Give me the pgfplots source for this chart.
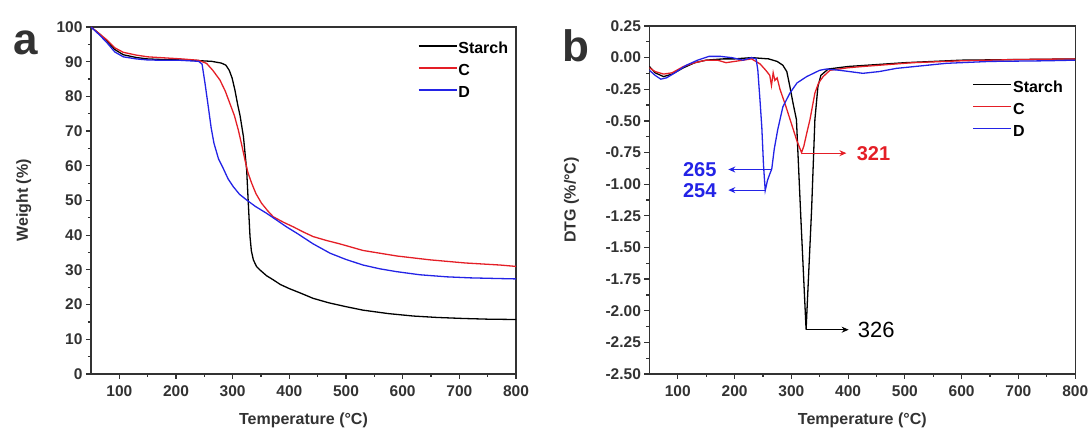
\documentclass[border=0pt]{standalone}
\usepackage{pgfplots}
\pgfplotsset{compat=1.18}
\usepackage{pgfplotstable}
\usepackage{fontspec}
\setmainfont{Liberation Sans}
\usetikzlibrary{arrows.meta}
\definecolor{myred}{RGB}{228,30,38}
\definecolor{myblue}{RGB}{35,35,230}
\definecolor{frame}{RGB}{50,50,50}

\pgfplotstableread{
T W
50 100
65 98
78 96
92 93.5
107 92
130 91.2
150 90.8
180 90.6
210 90.5
240 90.3
263 90.1
280 89.6
288 89
294 87.5
299 85.3
304 81.8
309 77.5
313 74.5
319 68.4
324.7 58.8
327.6 49.2
330.6 39.6
333 35.5
336.5 32.9
342 31
348 30
360 28.3
372 27.1
384 25.8
400 24.6
420 23.3
442 21.8
470 20.5
500 19.4
530 18.4
575 17.4
619 16.7
660 16.3
707 16.0
750 15.8
800 15.7
}\starchW

\pgfplotstableread{
T W
50 100
65 98
78 96.3
92 94
107 92.7
130 91.9
150 91.4
180 91.1
210 90.8
240 90.4
254 89.5
265 87.5
277.6 84.7
287 81.5
295 78
303 74.5
310 70.3
316 66
321.7 61.7
327 58
333.5 55
341 52
351 49.2
362 47
371.7 45.3
390 43.7
407 42.4
425 40.9
442 39.6
465 38.5
489 37.5
530 35.6
590 34.0
648 32.9
710 32.0
772 31.4
800 31.0
}\cW

\pgfplotstableread{
T W
50 100
65 97.7
78 95.5
92 92.8
107 91.4
130 90.8
150 90.5
180 90.4
207 90.4
230 90.2
240 90.1
246 89.3
251 84
257 77
262 71
267 66.5
275 62
283.5 59.2
292 56.2
301 54
312 51.8
325 50.1
340 48.3
360 46.3
378 44.3
395 42.4
413 40.6
442 37.5
472 34.8
500 33.0
530 31.4
560 30.3
589 29.5
630 28.6
678 28.0
720 27.7
772 27.5
800 27.4
}\dW

\pgfplotstableread{
T D
50 -0.07
60 -0.12
75 -0.15
90 -0.13
110 -0.08
130 -0.04
150 -0.02
180 -0.01
200 -0.01
230 0.0
260 -0.01
275 -0.03
285 -0.06
292 -0.11
297.5 -0.23
303 -0.36
309 -0.49
317 -1.29
326 -2.15
335.7 -1.20
341.5 -0.49
346.8 -0.23
352 -0.14
365 -0.09
400 -0.07
450 -0.055
500 -0.04
600 -0.02
700 -0.015
800 -0.01
}\starchD

\pgfplotstableread{
T D
50 -0.08
60 -0.11
75 -0.13
90 -0.12
110 -0.07
130 -0.04
150 -0.02
170 -0.02
185 -0.04
200 -0.03
215 -0.02
230 -0.01
245 -0.05
255 -0.10
262 -0.14
265 -0.22
268 -0.12
271 -0.18
275 -0.16
280 -0.25
290 -0.38
300 -0.52
310 -0.66
318 -0.75
322 -0.70
327 -0.60
332.8 -0.49
341.5 -0.28
348 -0.20
356 -0.15
368 -0.10
400 -0.08
426 -0.07
470 -0.055
514 -0.04
600 -0.025
700 -0.015
800 -0.01
}\cD

\pgfplotstableread{
T D
50 -0.10
60 -0.14
70 -0.17
80 -0.16
95 -0.12
115 -0.06
135 -0.02
155 0.01
175 0.01
195 0.0
215 -0.02
230 0.0
238 -0.01
241 -0.10
245 -0.35
248 -0.55
251 -0.85
254 -1.05
258 -0.97
262 -0.92
265.5 -0.88
270 -0.72
276 -0.57
285 -0.39
297.5 -0.28
310 -0.20
327 -0.15
350 -0.10
362 -0.09
385 -0.10
426 -0.124
455 -0.11
485 -0.085
573 -0.045
650 -0.03
749 -0.025
800 -0.02
}\dD

\pgfplotsset{
  mystyle/.style={
    scale only axis, anchor=south west,
    axis line style={frame, line width=1.4pt},
    tick style={frame, line width=1.2pt},
    major tick length=5pt, minor tick length=3pt,
    tick align=outside, tick pos=left,
    minor tick num=1,
    xmin=50, xmax=800, xtick={100,200,...,800},
    /pgf/number format/assume math mode=true,
    ticklabel style={font=\bfseries\fontsize{15.5}{15.5}\selectfont, text=frame},
    xticklabel style={yshift=-3pt},
    label style={font=\bfseries\fontsize{16}{16}\selectfont, text=frame},
    xlabel={Temperature (°C)},
    xlabel style={at={(axis description cs:0.5,-0.1326)}, anchor=center},
    legend style={draw=none, fill=none, font=\bfseries\fontsize{16}{16}\selectfont, anchor=north west, row sep=5pt, inner sep=0pt,
      nodes={inner sep=1pt, text height=12pt, text depth=3pt}},
    legend cell align=left,
    legend image code/.code={\draw[##1, line width=1.3pt] (0pt,3pt) -- (38pt,3pt);},
    every axis plot/.append style={line width=1.3pt},
  }
}

\begin{document}
\begin{tikzpicture}[x=1pt,y=1pt]
\useasboundingbox (0,0) rectangle (1092,435);

\begin{axis}[mystyle,
  at={(91pt,61pt)}, width=425pt, height=347pt,
  ymin=0, ymax=100, ytick={0,10,...,100},
  ylabel={Weight (\%)},
  ylabel style={at={(axis description cs:-0.158,0.5)}, anchor=center},
  legend style={at={(axis description cs:0.769,0.962)}},
]
\addplot[black] table {\starchW};
\addplot[myred] table {\cW};
\addplot[myblue] table {\dW};
\legend{Starch, C, D}
\end{axis}

\begin{axis}[mystyle,
  at={(649.4pt,61pt)}, width=425.8pt, height=348pt,
  ymin=-2.5, ymax=0.25,
  ytick={-2.5,-2.25,-2,-1.75,-1.5,-1.25,-1,-0.75,-0.5,-0.25,0,0.25},
  yticklabel style={/pgf/number format/.cd, fixed, fixed zerofill, precision=2},
  ylabel={DTG (\%/°C)},
  ylabel style={at={(axis description cs:-0.183,0.5)}, anchor=center},
  legend style={at={(axis description cs:0.759,0.848)}},
]
\addplot[black] table {\starchD};
\addplot[myred] table {\cD};
\addplot[myblue] table {\dD};
\legend{Starch, C, D}
\draw[myred, line width=1.2pt, -{Stealth[length=7pt,width=6pt]}] (axis cs:318,-0.755) -- (axis cs:397,-0.755);
\node[myred, anchor=west, inner sep=0pt, font=\bfseries\fontsize{20}{20}\selectfont] at (axis cs:415,-0.76) {321};
\draw[myblue, line width=1.2pt, -{Stealth[length=7pt,width=6pt]}] (axis cs:265.5,-0.884) -- (axis cs:189,-0.884);
\node[myblue, anchor=east, inner sep=0pt, font=\bfseries\fontsize{20}{20}\selectfont] at (axis cs:168.4,-0.884) {265};
\draw[myblue, line width=1.2pt, -{Stealth[length=7pt,width=6pt]}] (axis cs:254,-1.047) -- (axis cs:189,-1.047);
\node[myblue, anchor=east, inner sep=0pt, font=\bfseries\fontsize{20}{20}\selectfont] at (axis cs:168.4,-1.047) {254};
\draw[black, line width=1.2pt, -{Stealth[length=7pt,width=6pt]}] (axis cs:326,-2.15) -- (axis cs:401,-2.15);
\node[black, anchor=west, inner sep=0pt, font=\fontsize{22}{22}\selectfont] at (axis cs:416.7,-2.155) {326};
\end{axis}

\node[font=\bfseries\fontsize{44}{44}\selectfont, frame] at (26,392) {a};
\node[font=\bfseries\fontsize{44}{44}\selectfont, frame] at (575.5,389) {b};
\end{tikzpicture}
\end{document}
